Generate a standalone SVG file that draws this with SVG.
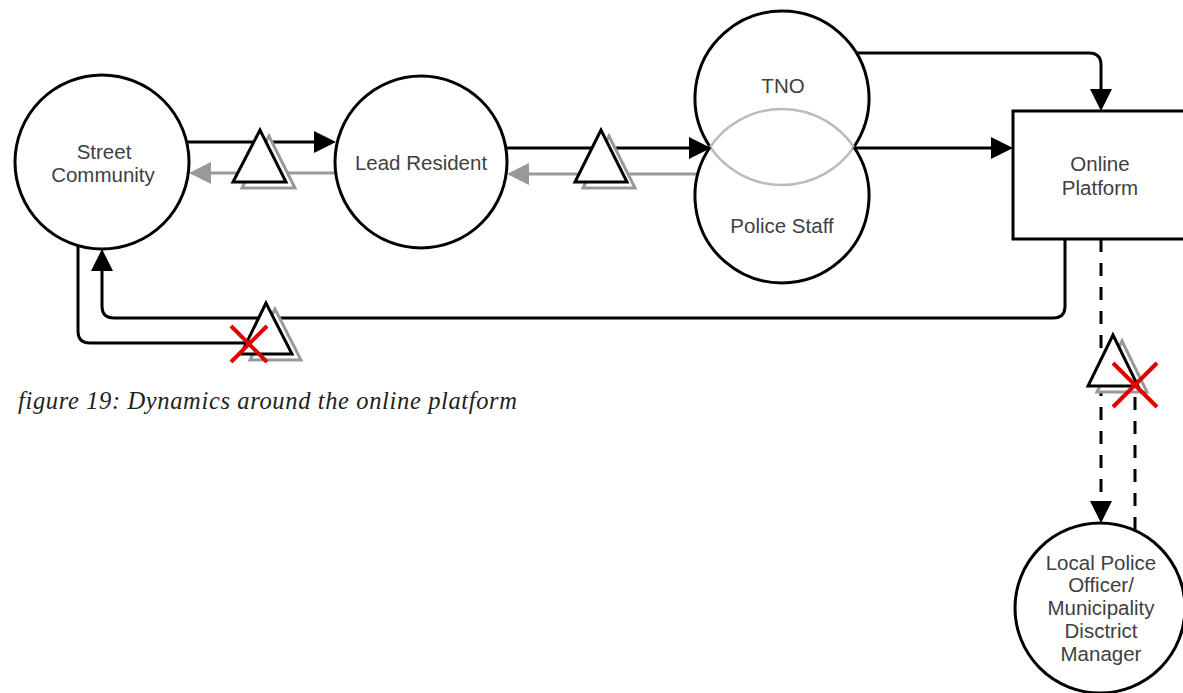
<svg xmlns="http://www.w3.org/2000/svg" width="1183" height="693" viewBox="0 0 1183 693">
  <defs>
    <style>
      .node { fill: #ffffff; stroke: #000000; stroke-width: 3; }
      .edge { fill: none; stroke: #000000; stroke-width: 3; }
      .edge-grey { fill: none; stroke: #999999; stroke-width: 3; }
      .dashed { stroke-dasharray: 13 11; }
      .inner { fill: none; stroke: #bbbbbb; stroke-width: 2.5; }
      .label { font-family: "Liberation Sans", Arial, Helvetica, sans-serif; font-size: 20.5px; fill: #404040; text-anchor: middle; }
      .caption { font-family: "Liberation Serif", "Times New Roman", serif; font-style: italic; font-size: 24.5px; fill: #231f20; }
      .tri-back { fill: #ffffff; stroke: #999999; stroke-width: 3; stroke-linejoin: miter; }
      .tri-front { fill: #ffffff; stroke: #000000; stroke-width: 3; stroke-linejoin: miter; }
      .block { stroke: #e00000; stroke-width: 4; stroke-linecap: butt; }
    </style>
    <marker id="arrow" viewBox="0 0 22 22" refX="0" refY="11" markerWidth="22" markerHeight="22" markerUnits="userSpaceOnUse" orient="auto">
      <path d="M0,0 L22,11 L0,22 Z" fill="#000000"/>
    </marker>
    <marker id="arrow-grey" viewBox="0 0 22 22" refX="0" refY="11" markerWidth="22" markerHeight="22" markerUnits="userSpaceOnUse" orient="auto">
      <path d="M0,0 L22,11 L0,22 Z" fill="#999999"/>
    </marker>
  </defs>

  <rect width="1183" height="693" fill="#ffffff"/>

  <!-- connectors -->
  <g id="connectors">
    <!-- Street Community <-> Lead Resident -->
    <path class="edge" d="M186,142 H314" marker-end="url(#arrow)"/>
    <path class="edge-grey" d="M336,173 H211" marker-end="url(#arrow-grey)"/>
    <!-- Lead Resident <-> TNO / Police Staff -->
    <path class="edge" d="M506,148 H689" marker-end="url(#arrow)"/>
    <path class="edge-grey" d="M699,174 H529" marker-end="url(#arrow-grey)"/>
    <!-- TNO -> Online Platform (top) -->
    <path class="edge" d="M856,53 H1089 Q1101,53 1101,65 V89" marker-end="url(#arrow)"/>
    <!-- TNO / Police Staff -> Online Platform -->
    <path class="edge" d="M854,148 H991" marker-end="url(#arrow)"/>
    <!-- Online Platform -> Street Community (loop underneath) -->
    <path class="edge" d="M1065,239 V306 Q1065,318 1053,318 H114 Q102,318 102,306 V271" marker-end="url(#arrow)"/>
    <!-- Street Community -> blocked return -->
    <path class="edge" d="M78,246 V331 Q78,343 90,343 H256"/>
    <!-- Online Platform -> Local Police Officer (dashed) -->
    <path class="edge dashed" d="M1101,239 V501" marker-end="url(#arrow)"/>
    <!-- Local Police Officer -> blocked return (dashed) -->
    <path class="edge dashed" d="M1135,530 V385"/>

    <!-- barrier triangles -->
    <g id="barrier-1">
      <polygon class="tri-back" points="269,136 242,188 295,188"/>
      <polygon class="tri-front" points="260,130 233,182 286,182"/>
    </g>
    <g id="barrier-2">
      <polygon class="tri-back" points="609,136 583,188 635,188"/>
      <polygon class="tri-front" points="601,130 575,182 627,182"/>
    </g>
    <g id="barrier-3">
      <polygon class="tri-back" points="275,309 250,360 301,360"/>
      <polygon class="tri-front" points="266,303 241,354 292,354"/>
      <line class="block" x1="231" y1="326" x2="267" y2="362"/>
      <line class="block" x1="231" y1="362" x2="267" y2="326"/>
    </g>
    <g id="barrier-4">
      <polygon class="tri-back" points="1122,341 1097,392 1147,392"/>
      <polygon class="tri-front" points="1113,335 1088,386 1138,386"/>
      <line class="block" x1="1113" y1="363" x2="1157" y2="407"/>
      <line class="block" x1="1113" y1="407" x2="1157" y2="363"/>
    </g>
  </g>

  <!-- nodes -->
  <g id="street-community">
    <circle class="node" cx="102" cy="162" r="87"/>
    <text class="label" x="104" y="159">Street</text>
    <text class="label" x="103" y="182">Community</text>
  </g>

  <g id="lead-resident">
    <circle class="node" cx="421" cy="162" r="86"/>
    <text class="label" x="421" y="170">Lead Resident</text>
  </g>

  <g id="tno">
    <path class="edge" d="M710.11,147 A87,87 0 1,1 853.89,147"/>
    <path class="inner" d="M710.11,147 A87,87 0 0,0 853.89,147"/>
    <text class="label" x="783" y="93">TNO</text>
  </g>

  <g id="police-staff">
    <path class="edge" d="M710.11,147 A87,87 0 1,0 853.89,147"/>
    <path class="inner" d="M710.11,147 A87,87 0 0,1 853.89,147"/>
    <text class="label" x="782" y="233">Police Staff</text>
  </g>

  <g id="online-platform">
    <rect class="node" x="1013" y="111" width="174" height="128"/>
    <text class="label" x="1100" y="171">Online</text>
    <text class="label" x="1100" y="195">Platform</text>
  </g>

  <g id="local-police-officer">
    <circle class="node" cx="1100" cy="608" r="85"/>
    <text class="label" x="1101" y="570">Local Police</text>
    <text class="label" x="1101" y="592">Officer/</text>
    <text class="label" x="1101" y="615">Municipality</text>
    <text class="label" x="1101" y="638">Disctrict</text>
    <text class="label" x="1101" y="661">Manager</text>
  </g>

  <text class="caption" x="18" y="409" textLength="499">figure 19: Dynamics around the online platform</text>
</svg>
